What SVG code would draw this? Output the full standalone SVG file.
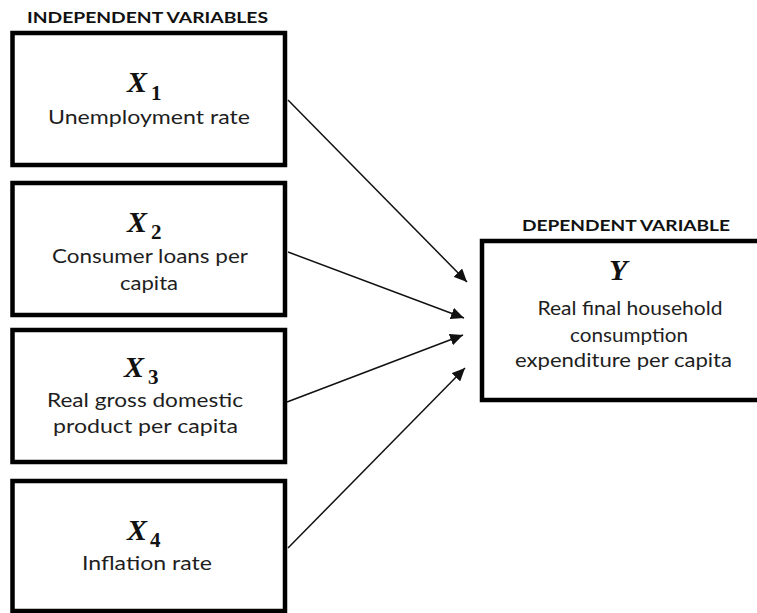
<svg xmlns="http://www.w3.org/2000/svg" width="757" height="613" viewBox="0 0 757 613">
  <style>
    .box { fill: #ffffff; stroke: #000000; stroke-width: 4.5; }
    .head { font-family: "Lato", "Open Sans", sans-serif; font-weight: 700; font-size: 15px; fill: #111111; }
    .body { font-family: "Lato", "Open Sans", sans-serif; font-size: 19.5px; fill: #1e1e1e; text-anchor: middle; }
    .var { font-family: "Liberation Serif", "DejaVu Serif", serif; font-weight: 700; font-style: italic; font-size: 30px; fill: #111111; }
    .sub { font-family: "Liberation Serif", "DejaVu Serif", serif; font-weight: 700; font-size: 21px; fill: #111111; }
    .link { stroke: #111111; stroke-width: 1.5; fill: none; marker-end: url(#arrow); }
  </style>
  <defs>
    <marker id="arrow" markerUnits="userSpaceOnUse" markerWidth="14" markerHeight="12" viewBox="0 0 14 12" refX="13" refY="6" orient="auto">
      <path d="M0,0 L13,6 L0,12 Z" fill="#111111"/>
    </marker>
  </defs>

  <rect width="757" height="613" fill="#ffffff"/>

  <text class="head" x="27" y="23" textLength="241" lengthAdjust="spacingAndGlyphs">INDEPENDENT VARIABLES</text>
  <text class="head" x="522" y="231" textLength="208" lengthAdjust="spacingAndGlyphs">DEPENDENT VARIABLE</text>

  <g id="x1">
    <rect class="box" x="12.5" y="33" width="272.5" height="132"/>
    <text class="var" x="127" y="92">X</text>
    <text class="sub" x="151" y="100">1</text>
    <text class="body" x="149" y="124" textLength="202" lengthAdjust="spacingAndGlyphs">Unemployment rate</text>
  </g>

  <g id="x2">
    <rect class="box" x="12.5" y="183" width="272.5" height="132"/>
    <text class="var" x="127" y="232">X</text>
    <text class="sub" x="151" y="239">2</text>
    <text class="body" x="150" y="263" textLength="196" lengthAdjust="spacingAndGlyphs">Consumer loans per</text>
    <text class="body" x="149" y="290" textLength="58" lengthAdjust="spacingAndGlyphs">capita</text>
  </g>

  <g id="x3">
    <rect class="box" x="12.5" y="330" width="272.5" height="132"/>
    <text class="var" x="124" y="377">X</text>
    <text class="sub" x="148" y="384">3</text>
    <text class="body" x="145" y="407" textLength="196" lengthAdjust="spacingAndGlyphs">Real gross domestic</text>
    <text class="body" x="145.5" y="433" textLength="185" lengthAdjust="spacingAndGlyphs">product per capita</text>
  </g>

  <g id="x4">
    <rect class="box" x="12.5" y="481" width="272.5" height="130"/>
    <text class="var" x="127" y="540">X</text>
    <text class="sub" x="150" y="547">4</text>
    <text class="body" x="147" y="570" textLength="130" lengthAdjust="spacingAndGlyphs">Inflation rate</text>
  </g>

  <g id="y">
    <rect class="box" x="482" y="241" width="300" height="159"/>
    <text class="var" x="609" y="280">Y</text>
    <text class="body" x="630" y="315" textLength="185" lengthAdjust="spacingAndGlyphs">Real final household</text>
    <text class="body" x="629" y="342" textLength="118" lengthAdjust="spacingAndGlyphs">consumption</text>
    <text class="body" x="623.5" y="367" textLength="217" lengthAdjust="spacingAndGlyphs">expenditure per capita</text>
  </g>

  <g id="connectors">
    <line class="link" x1="288" y1="100" x2="467" y2="282"/>
    <line class="link" x1="288" y1="252" x2="464" y2="318"/>
    <line class="link" x1="287" y1="402" x2="463" y2="335"/>
    <line class="link" x1="288" y1="548" x2="465" y2="368"/>
  </g>
</svg>
